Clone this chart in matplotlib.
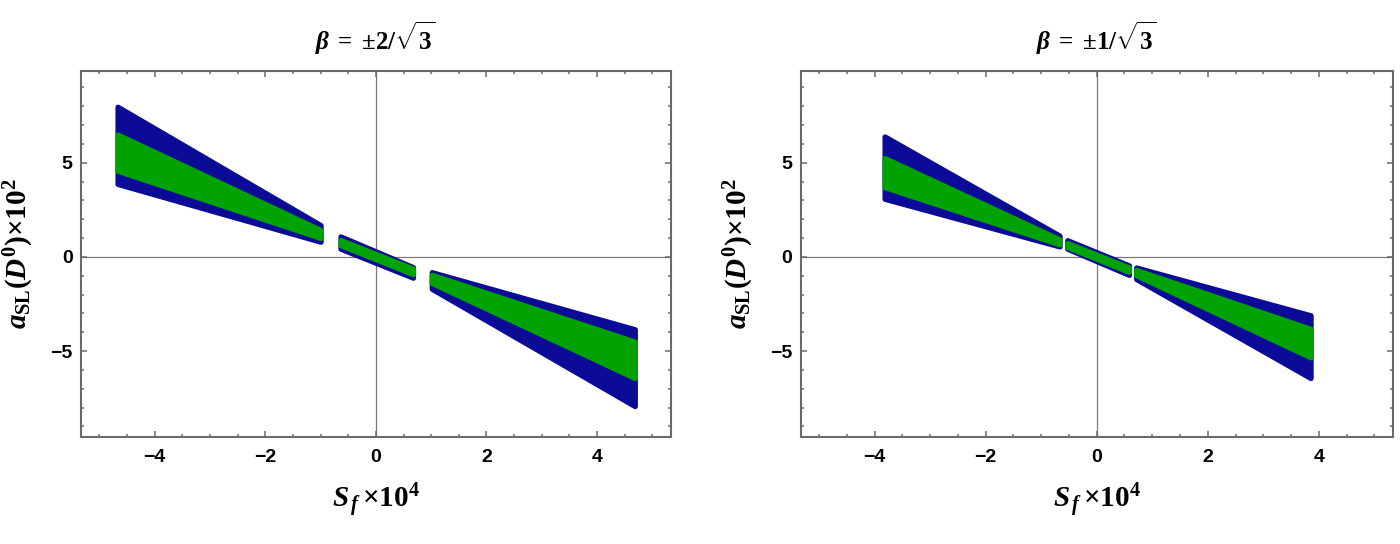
import matplotlib
matplotlib.use("Agg")
import matplotlib.pyplot as plt
from matplotlib.ticker import MultipleLocator

plt.rcParams['mathtext.fontset'] = 'custom'
plt.rcParams['mathtext.rm'] = 'Liberation Serif:bold'
plt.rcParams['mathtext.it'] = 'Liberation Serif:italic:bold'
plt.rcParams['mathtext.bf'] = 'Liberation Serif:bold'
plt.rcParams['mathtext.bfit'] = 'Liberation Serif:italic:bold'

# ---- data (dot-centre corners of each scatter region) ----
titles = [r'$\beta\;=\;{\pm}2/\sqrt{3}$',
          r'$\beta\;=\;{\pm}1/\sqrt{3}$']

# Sf x 10^4 ranges of the three segments
left_seg_sf = [(-4.66, -0.99), (-0.63, 0.68), (1.02, 4.69)]
left_blue_hi = [(7.95, 1.66), (1.06, -0.57), (-0.84, -3.87)]
left_blue_lo = [(3.85, 0.78), (0.41, -1.13), (-1.72, -7.95)]
left_green_hi = [(6.47, 1.40), (0.87, -0.65), (-0.98, -4.53)]
left_green_lo = [(4.55, 0.98), (0.60, -0.94), (-1.41, -6.46)]

right_seg_sf = [(-3.81, -0.66), (-0.52, 0.59), (0.72, 3.86)]
right_blue_hi = [(6.37, 1.10), (0.86, -0.48), (-0.59, -3.13)]
right_blue_lo = [(3.06, 0.53), (0.41, -0.98), (-1.20, -6.46)]
right_green_hi = [(5.22, 0.90), (0.71, -0.59), (-0.72, -3.85)]
right_green_lo = [(3.68, 0.64), (0.50, -0.82), (-1.00, -5.36)]

panels = [
    (left_seg_sf, left_blue_hi, left_blue_lo, left_green_hi, left_green_lo),
    (right_seg_sf, right_blue_hi, right_blue_lo, right_green_hi, right_green_lo),
]

xticks = [-4, -2, 0, 2, 4]
yticks = [-5, 0, 5]
xlim = (-5.33, 5.33)
ylim = (-9.55, 9.89)

BLUE = '#0b0b98'
GREEN = '#00a200'
FRAME = '#6a6a6a'

fig = plt.figure(figsize=(14, 5.44), dpi=100)
axes_pos = [[81 / 1400, 107.3 / 544, 589.7 / 1400, 366 / 544],
            [800.7 / 1400, 107.3 / 544, 592 / 1400, 366 / 544]]

def region(ax, segs, hi, lo, color):
    for (x0, x1), (h0, h1), (l0, l1) in zip(segs, hi, lo):
        ax.fill([x0, x1, x1, x0], [h0, h1, l1, l0], facecolor=color,
                edgecolor=color, linewidth=3.8, joinstyle='round', zorder=3)

for i, (pos, title, data) in enumerate(zip(axes_pos, titles, panels)):
    ax = fig.add_axes(pos)
    segs, bhi, blo, ghi, glo = data
    region(ax, segs, bhi, blo, BLUE)
    region(ax, segs, ghi, glo, GREEN)
    ax.axhline(0, color='#7a7a7a', lw=0.9, zorder=1)
    ax.axvline(0, color='#7a7a7a', lw=0.9, zorder=1)
    ax.set_xlim(*xlim)
    ax.set_ylim(*ylim)
    ax.set_xticks(xticks)
    ax.set_yticks(yticks)
    ax.xaxis.set_minor_locator(MultipleLocator(0.5))
    ax.yaxis.set_minor_locator(MultipleLocator(1))
    ax.set_xticklabels([f'{t}'.replace('-', '\u2212') for t in xticks])
    ax.set_yticklabels([f'{t}'.replace('-', '\u2212') for t in yticks])
    for sp in ax.spines.values():
        sp.set_color(FRAME)
        sp.set_linewidth(1.5)
    ax.tick_params(which='both', direction='in', top=True, right=True,
                   color=FRAME, width=1.1)
    ax.tick_params(which='major', length=4.5)
    ax.tick_params(which='minor', length=2.5)
    ax.tick_params(axis='x', which='major', pad=9)
    ax.tick_params(axis='y', which='major', pad=6)
    for lab in ax.get_xticklabels() + ax.get_yticklabels():
        lab.set_fontfamily('Liberation Sans')
        lab.set_fontweight('bold')
        lab.set_fontsize(14)
    ax.set_xlabel(r'$S_{\,f}\,{\times}10^{4}$', fontsize=21)
    ax.xaxis.label.set_va('baseline')
    ax.xaxis.set_label_coords(0.5, -0.195)
    ax.set_ylabel(r'$a_{\mathrm{SL}}(D^{0}){\times}10^{2}$', fontsize=21)
    ax.yaxis.label.set_va('center')
    ax.yaxis.set_label_coords(-62 / pos[2] / 1400, 0.5)
    ax.set_title(title, fontsize=18, y=1.0566, pad=0)

fig.savefig('out.png', dpi=100)
